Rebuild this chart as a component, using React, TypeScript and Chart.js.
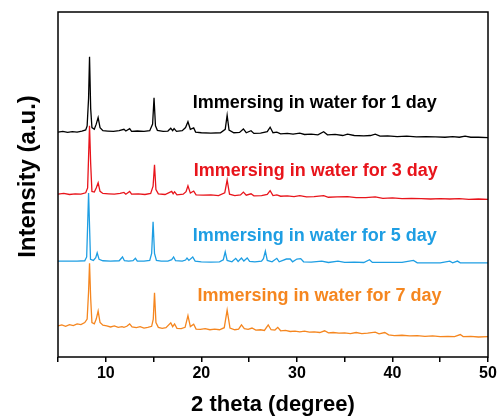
import React, { useEffect, useRef } from 'react';
import { Chart, registerables } from 'chart.js';

Chart.register(...registerables);

// ---- data (2θ in degree, stacked intensity in a.u.) ----
const seriesLabels = [
  'Immersing in water for 1 day',
  'Immersing in water for 3 day',
  'Immersing in water for 5 day',
  'Immersing in water for 7 day',
];

const seriesColors = ['#000000', '#E8141B', '#1E9EE3', '#F5861F'];

const xTickLabels = [10, 20, 30, 40, 50];

const day1: [number, number][] = [
  [5, 65.2], [5.5, 65.4], [6.0, 65.1], [6.5, 65.3], [7.0, 65.2], [7.5, 65.5], [7.9, 65.8],
  [8.05, 67.0], [8.2, 75], [8.3, 87.0], [8.42, 72], [8.55, 66.5], [8.8, 66.0], [9.0, 67.5],
  [9.2, 69.4], [9.4, 66.5], [9.7, 65.6], [10.2, 65.5], [10.8, 65.4], [11.4, 65.6], [11.9, 66.0],
  [12.1, 65.5], [12.5, 66.2], [12.7, 65.4], [13.3, 65.5], [14.0, 65.4], [14.6, 65.6], [14.9, 67.5],
  [15.05, 75.1], [15.2, 67.0], [15.4, 65.7], [16.0, 65.4], [16.5, 65.5], [16.8, 66.3], [17.0, 65.6],
  [17.15, 66.2], [17.4, 65.4], [18.0, 65.6], [18.35, 66.5], [18.6, 68.2], [18.85, 66.0], [19.2, 66.4],
  [19.4, 65.2], [20, 65.0], [21, 64.9], [22, 65.0], [22.5, 66.0], [22.7, 70.1], [22.9, 65.8],
  [23.4, 65.0], [24.0, 65.1], [24.4, 66.1], [24.7, 65.0], [25.2, 65.6], [25.5, 64.8], [26.2, 64.9],
  [26.9, 65.3], [27.2, 66.6], [27.5, 65.0], [27.9, 65.2], [28.3, 64.7], [29, 64.8], [29.6, 64.6],
  [30.3, 64.9], [30.8, 64.5], [31.5, 64.6], [32.2, 64.4], [32.8, 65.3], [33.2, 64.4], [34, 64.5],
  [34.8, 64.2], [35.3, 64.6], [36, 64.2], [37, 64.1], [37.7, 64.2], [38.2, 64.6], [38.7, 64.0],
  [39.5, 64.1], [40.5, 63.9], [41.5, 64.0], [42.5, 63.8], [43.5, 63.9], [44.5, 63.8], [45.5, 63.7],
  [46.3, 63.9], [47.0, 63.7], [47.6, 64.0], [48.2, 63.7], [49, 63.7], [50, 63.6],
];

const day3: [number, number][] = [
  [5, 47.2], [5.6, 47.4], [6.2, 47.1], [6.8, 47.3], [7.4, 47.2], [7.9, 47.6], [8.1, 49],
  [8.2, 58], [8.3, 67.0], [8.42, 56], [8.55, 48.0], [8.8, 47.8], [9.0, 49.0], [9.2, 50.5],
  [9.4, 48.0], [9.7, 47.4], [10.3, 47.3], [10.9, 47.2], [11.5, 47.4], [11.9, 47.7], [12.1, 47.2],
  [12.5, 48.0], [12.7, 47.2], [13.4, 47.3], [14.1, 47.1], [14.7, 47.4], [14.95, 49.5], [15.1, 55.7],
  [15.25, 48.5], [15.5, 47.3], [16.2, 47.1], [16.9, 48.0], [17.05, 47.3], [17.2, 47.9], [17.45, 47.0],
  [18.1, 47.2], [18.4, 47.9], [18.6, 49.6], [18.85, 47.5], [19.2, 48.1], [19.45, 47.0], [20.2, 46.9],
  [21, 47.0], [21.8, 46.8], [22.45, 47.6], [22.7, 51.3], [22.95, 47.2], [23.5, 46.8], [24.1, 47.0],
  [24.4, 47.8], [24.7, 46.9], [25.2, 47.3], [25.5, 46.7], [26.3, 46.8], [26.9, 47.1], [27.2, 48.2],
  [27.5, 46.8], [27.9, 47.0], [28.3, 46.6], [29, 46.7], [29.7, 46.5], [30.3, 46.8], [31, 46.4],
  [31.8, 46.5], [32.8, 46.8], [33.3, 46.3], [34.2, 46.4], [35.3, 46.5], [36.2, 46.2], [37.2, 46.2],
  [38.2, 46.4], [39, 46.0], [40, 46.1], [41, 45.9], [42, 46.0], [43, 45.9], [44, 45.8], [45, 45.9],
  [46, 45.8], [47, 45.9], [48, 45.7], [49, 45.8], [50, 45.7],
];

const day5: [number, number][] = [
  [5, 27.8], [6, 27.8], [7, 27.8], [7.8, 27.9], [8.0, 29], [8.1, 38], [8.2, 47.5], [8.3, 38],
  [8.4, 28.3], [8.7, 28.0], [8.95, 28.8], [9.1, 30.2], [9.3, 28.3], [9.7, 27.9], [10.5, 27.8],
  [11.4, 27.9], [11.75, 29.0], [11.95, 27.9], [12.4, 27.8], [12.85, 27.9], [13.1, 28.6], [13.3, 27.8],
  [14.0, 27.8], [14.6, 28.0], [14.8, 30], [14.95, 39.2], [15.1, 30], [15.3, 28.0], [15.8, 27.8],
  [16.5, 27.8], [16.9, 28.2], [17.1, 29.0], [17.3, 27.9], [18.0, 27.8], [18.35, 28.1], [18.5, 28.7],
  [18.7, 28.0], [19.1, 29.0], [19.35, 27.8], [20, 27.6], [21, 27.5], [21.9, 27.6], [22.3, 28.2],
  [22.5, 30.5], [22.7, 28.0], [23.2, 27.6], [23.6, 28.6], [23.85, 27.7], [24.2, 28.7], [24.45, 27.8],
  [24.8, 28.7], [25.05, 27.7], [25.6, 27.6], [26.3, 27.8], [26.5, 28.5], [26.7, 30.7], [26.9, 28.0],
  [27.4, 27.6], [27.9, 28.6], [28.15, 27.6], [28.9, 28.4], [29.3, 28.4], [29.55, 27.6], [30.0, 28.4],
  [30.4, 28.5], [30.7, 27.6], [31.5, 27.5], [32.6, 27.8], [33.3, 27.4], [34.3, 27.8], [35, 27.4],
  [36, 27.5], [37.0, 27.4], [37.6, 28.2], [37.9, 27.4], [39, 27.4], [40, 27.4], [41, 27.4],
  [42.2, 28.0], [42.6, 27.3], [44, 27.3], [45, 27.3], [46.0, 27.8], [46.3, 27.3], [46.8, 27.8],
  [47.1, 27.3], [48, 27.3], [49, 27.3], [50, 27.3],
];

const day7: [number, number][] = [
  [5, 9.0], [5.4, 9.3], [5.8, 8.9], [6.2, 9.4], [6.6, 9.1], [7.0, 9.6], [7.4, 9.4], [7.8, 10.0],
  [8.05, 11], [8.2, 19], [8.3, 27.2], [8.42, 17], [8.55, 10.0], [8.8, 9.6], [9.0, 11.0], [9.2, 13.3],
  [9.4, 10.0], [9.7, 9.2], [10.1, 9.0], [10.5, 8.7], [10.9, 9.0], [11.3, 8.6], [11.7, 8.8], [11.9, 8.6],
  [12.2, 8.9], [12.5, 9.6], [12.75, 8.7], [13.2, 8.5], [13.6, 8.8], [14.0, 8.4], [14.4, 8.6], [14.8, 8.9],
  [14.97, 11], [15.1, 18.6], [15.25, 10.0], [15.5, 8.6], [15.9, 8.3], [16.3, 8.5], [16.8, 9.9],
  [17.0, 8.8], [17.2, 9.6], [17.45, 8.3], [17.9, 8.2], [18.3, 8.6], [18.6, 12.0], [18.85, 8.8],
  [19.2, 9.5], [19.45, 8.1], [19.9, 8.0], [20.4, 8.2], [20.9, 7.9], [21.4, 8.1], [21.9, 7.9], [22.4, 8.5],
  [22.7, 13.6], [23.0, 8.4], [23.5, 7.9], [23.9, 8.1], [24.2, 9.3], [24.5, 8.2], [24.9, 8.0], [25.3, 8.4],
  [25.7, 7.8], [26.2, 7.9], [26.6, 7.7], [27.0, 9.3], [27.3, 7.9], [27.7, 7.8], [28.0, 8.6], [28.3, 7.6],
  [28.8, 7.7], [29.3, 7.4], [29.8, 7.5], [30.3, 7.3], [30.8, 7.5], [31.3, 7.2], [31.8, 7.3], [32.4, 7.1],
  [32.9, 7.6], [33.3, 7.0], [33.8, 7.1], [34.4, 6.9], [35, 7.0], [35.6, 6.8], [36.2, 7.1], [36.8, 6.8],
  [37.4, 6.9], [38.2, 7.2], [38.6, 6.7], [39.2, 7.1], [39.6, 6.4], [40.2, 6.2], [41, 6.3], [41.8, 6.1],
  [42.6, 6.2], [43.4, 6.0], [44.2, 6.1], [45, 5.9], [45.8, 6.0], [46.5, 5.9], [47.1, 6.5], [47.4, 5.9],
  [48.2, 6.0], [49, 5.8], [50, 5.9],
];

const seriesData = [day1, day3, day5, day7];

// label anchor (2θ, intensity) for each pattern's caption
const captionX = [19.1, 19.2, 19.1, 19.6];
const captionY = [72.1, 52.6, 33.7, 16.3];

const FONT = '"Liberation Sans", Arial, Helvetica, sans-serif';

const decorPlugin = {
  id: 'decor',
  afterDatasetsDraw(chart: any) {
    const { ctx, chartArea: a, scales } = chart;
    ctx.save();
    ctx.strokeStyle = '#000';
    ctx.lineWidth = 1.5;
    ctx.strokeRect(a.left, a.top, a.right - a.left, a.bottom - a.top);

    ctx.font = `bold 18px ${FONT}`;
    ctx.textAlign = 'left';
    ctx.textBaseline = 'alphabetic';
    seriesLabels.forEach((t, i) => {
      ctx.fillStyle = seriesColors[i];
      ctx.fillText(t, scales.x.getPixelForValue(captionX[i]), scales.y.getPixelForValue(captionY[i]));
    });

    ctx.fillStyle = '#000';
    ctx.font = `bold 24px ${FONT}`;
    ctx.translate(28, (a.top + a.bottom) / 2 - 8);
    ctx.rotate(-Math.PI / 2);
    ctx.textAlign = 'center';
    ctx.textBaseline = 'middle';
    ctx.fillText('Intensity (a.u.)', 0, 0);
    ctx.restore();
  },
};

export default function App() {
  const ref = useRef<HTMLCanvasElement | null>(null);
  useEffect(() => {
    if (!ref.current) return;
    const chart = new Chart(ref.current, {
      type: 'line',
      data: {
        datasets: seriesData.map((d, i) => ({
          label: seriesLabels[i],
          data: d.map(([x, y]) => ({ x, y })),
          borderColor: seriesColors[i],
          backgroundColor: seriesColors[i],
          borderWidth: 1.3,
          pointRadius: 0,
          tension: 0,
          fill: false,
        })),
      },
      options: {
        animation: false,
        responsive: false,
        layout: { padding: { top: 12, right: 12, left: 0, bottom: 0 } },
        plugins: { legend: { display: false }, tooltip: { enabled: false } },
        scales: {
          x: {
            type: 'linear',
            min: 5,
            max: 50,
            afterFit: (s: any) => { s.height = 63; },
            ticks: {
              stepSize: 5,
              color: '#000',
              padding: 2,
              font: { family: FONT, size: 16, weight: 'bold' },
              callback: (v: any) => (xTickLabels.includes(Number(v)) ? String(v) : ''),
              maxRotation: 0,
              autoSkip: false,
            },
            grid: {
              display: true,
              drawOnChartArea: false,
              drawTicks: true,
              tickLength: 5,
              color: '#000',
              lineWidth: 1.5,
            },
            border: { display: false },
            title: {
              display: true,
              text: '2 theta (degree)',
              color: '#000',
              font: { family: FONT, size: 22, weight: 'bold' },
              padding: { top: 0, bottom: 2 },
            },
          },
          y: {
            type: 'linear',
            min: 0,
            max: 100,
            afterFit: (s: any) => { s.width = 58; },
            ticks: { display: false },
            grid: { display: false },
            border: { display: false },
          },
        },
      },
      plugins: [decorPlugin],
    });
    return () => chart.destroy();
  }, []);
  return (
    <div style={{ position: 'fixed', left: 0, top: 0, width: 500, height: 420, background: '#fff' }}>
      <canvas ref={ref} width={500} height={420} style={{ width: 500, height: 420 }} />
    </div>
  );
}
